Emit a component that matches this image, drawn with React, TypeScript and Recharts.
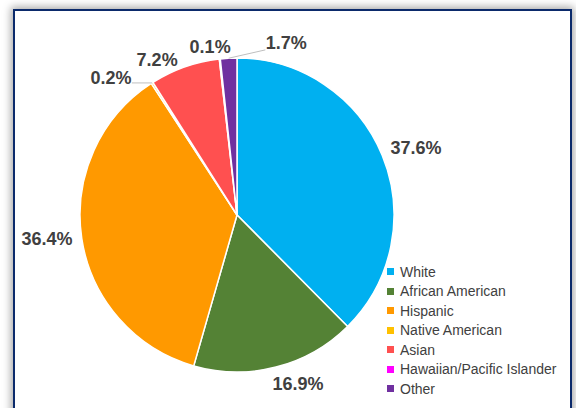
import React from "react";
import { PieChart, Pie, Cell, Legend } from "recharts";

const categories = [
  "White",
  "African American",
  "Hispanic",
  "Native American",
  "Asian",
  "Hawaiian/Pacific Islander",
  "Other",
];
const shares = [37.6, 16.9, 36.4, 0.2, 7.2, 0.1, 1.7];
const colors = ["#00B0F0", "#548235", "#FF9900", "#FFC000", "#FF5050", "#FF00FF", "#7030A0"];

// label placement tweaks (angle shift clockwise in degrees, radial distance beyond rim)
const labelNudge: [number, number][] = [
  [1.9, 34],
  [-5.4, 23],
  [1.3, 34.5],
  [-9.9, 29],
  [-7.9, 17],
  [-2.8, 13],
  [19, 22],
];

const data = categories.map((name, i) => ({ name, value: shares[i] }));
const RAD = Math.PI / 180;

const renderLabel = (props: any) => {
  const { cx, cy, midAngle, outerRadius, index } = props;
  const [dA, dR] = labelNudge[index];
  const ang = midAngle - dA;
  const r = outerRadius + dR;
  const x = cx + r * Math.cos(-ang * RAD);
  const y = cy + r * Math.sin(-ang * RAD);
  const text = `${shares[index].toFixed(1)}%`;
  const hw = text.length * 5.2;
  const hh = 7;
  const px = cx + outerRadius * Math.cos(-midAngle * RAD);
  const py = cy + outerRadius * Math.sin(-midAngle * RAD);
  const nx = Math.max(x - hw, Math.min(x + hw, px));
  const ny = Math.max(y - hh, Math.min(y + hh, py));
  const dist = Math.hypot(nx - px, ny - py);
  return (
    <g key={`lbl-${index}`}>
      {dist > 12 && (
        <line x1={px} y1={py} x2={nx} y2={ny} stroke="#BFBFBF" strokeWidth={1} />
      )}
      <text
        x={x}
        y={y}
        textAnchor="middle"
        dominantBaseline="central"
        fill="#404040"
        fontSize={18}
        fontWeight="bold"
        fontFamily="'Liberation Sans', Arial, sans-serif"
      >
        {text}
      </text>
    </g>
  );
};

const renderLegend = () => (
  <div style={{ fontFamily: "'Liberation Sans', Arial, sans-serif" }}>
    {categories.map((name, i) => (
      <div key={`leg-${i}`} style={{ display: "flex", alignItems: "center", height: 19.5 }}>
        <span
          style={{
            display: "inline-block",
            width: 7,
            height: 7,
            background: colors[i],
            marginRight: 6,
            flex: "none",
          }}
        />
        <span style={{ fontSize: 14, color: "#404040", whiteSpace: "nowrap" }}>{name}</span>
      </div>
    ))}
  </div>
);

export default function App() {
  return (
    <div
      style={{
        position: "absolute",
        left: 0,
        top: 0,
        width: 576,
        height: 408,
        background: "#FFFFFF",
        overflow: "hidden",
      }}
    >
      <div
        style={{
          position: "absolute",
          left: 13,
          top: 9,
          width: 555,
          height: 420,
          border: "2.5px solid #0B2A6B",
          boxShadow: "0 0 8px 2px rgba(0,0,0,0.35)",
          background: "#FFFFFF",
        }}
      />
      <div style={{ position: "absolute", left: 0, top: 0 }}>
        <PieChart width={576} height={408} margin={{ top: 0, right: 0, bottom: 0, left: 0 }}>
          <Pie
            data={data}
            dataKey="value"
            nameKey="name"
            cx={237}
            cy={215}
            outerRadius={157}
            startAngle={90}
            endAngle={-270}
            stroke="#FFFFFF"
            strokeWidth={1.5}
            label={renderLabel}
            labelLine={false}
            isAnimationActive={false}
          >
            {data.map((d, i) => (
              <Cell key={d.name} fill={colors[i]} />
            ))}
          </Pie>
          <Legend
            layout="vertical"
            verticalAlign="middle"
            align="right"
            content={renderLegend}
            wrapperStyle={{ left: 387, top: 262, width: 185, right: "auto", bottom: "auto" }}
          />
        </PieChart>
      </div>
    </div>
  );
}
